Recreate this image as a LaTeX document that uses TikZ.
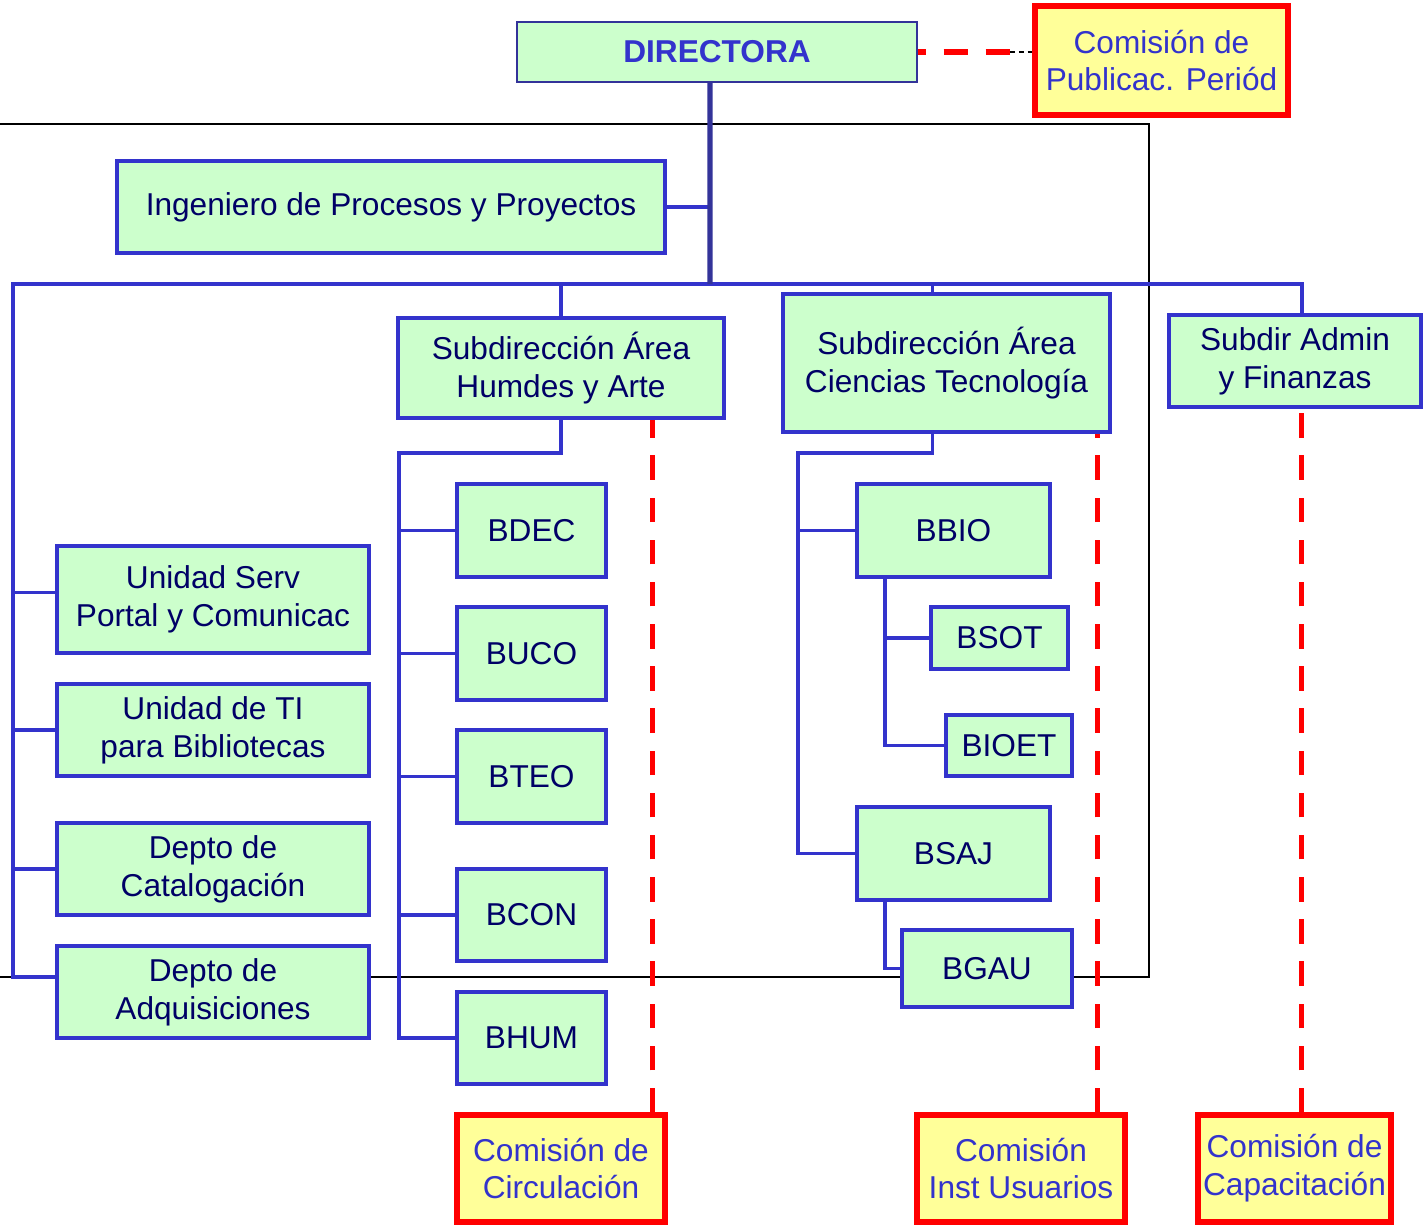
\documentclass[tikz,border=0pt]{standalone}
\usepackage{fontspec}
\setmainfont{Liberation Sans}
\usetikzlibrary{positioning}
\definecolor{lineblue}{HTML}{3333CC}
\definecolor{trunkblue}{HTML}{333399}
\definecolor{boxgreen}{HTML}{CCFFCC}
\definecolor{boxyellow}{HTML}{FFFF99}
\definecolor{navytext}{HTML}{000066}

\tikzset{
  sz/.style 2 args={minimum width=#1*0.02cm, minimum height=#2*0.02cm},
  unit/.style={draw=lineblue, line width=2.2pt, fill=boxgreen, text=navytext,
    align=center, inner sep=0pt, font=\fontsize{18}{21.5}\selectfont},
  comision/.style={draw=red, line width=2.9pt, fill=boxyellow, text=lineblue,
    align=center, inner sep=0pt, font=\fontsize{18}{21.5}\selectfont},
  link/.style={lineblue, line width=1.8pt},
  trunk/.style={trunkblue, line width=3pt},
  staff/.style={red, line width=2.9pt, dash pattern=on 14pt off 10pt},
  frame/.style={black, line width=0.6pt}
}

\begin{document}
\begin{tikzpicture}[x=0.02cm, y=-0.02cm]
\useasboundingbox (0,0) rectangle (1427,1225);
% marco de fondo
\draw [frame] (0,124) -- (1149,124) -- (1149,977) -- (0,977);

% direccion
\node [unit, sz={400}{60}, draw=trunkblue, line width=1.2pt, text=lineblue,
  font=\fontsize{18}{21.5}\selectfont\bfseries] (dir) at (717,52) {DIRECTORA};
\node [comision, sz={253}{109}] (pub) at (1161.5,60.5) {Comisión de\\Publicac. Periód};
\node [unit, sz={548}{92}] (ing) at (391,207) {Ingeniero de Procesos y Proyectos};

% subdirecciones
\node [unit, sz={326}{100}] (hum) at (561,368) {Subdirección Área\\Humdes y Arte};
\node [unit, sz={327}{138}] (cie) at (946.5,363) {Subdirección Área\\Ciencias Tecnología};
\node [unit, sz={252}{92}] (adm) at (1295,361) {Subdir Admin\\y Finanzas};

% unidades y departamentos
\node [unit, sz={312}{107}] (serv) at (213,599.5) {Unidad Serv\\Portal y Comunicac};
\node [unit, sz={312}{92}] (ti) at (213,730) {Unidad de TI\\para Bibliotecas};
\node [unit, sz={312}{92}] (cat) at (213,869) {Depto de\\Catalogación};
\node [unit, sz={312}{92}] (adq) at (213,992) {Depto de\\Adquisiciones};

% bibliotecas humanidades
\node [unit, sz={149}{93}] (bdec) at (531.5,530.5) {BDEC};
\node [unit, sz={149}{93}] (buco) at (531.5,653.5) {BUCO};
\node [unit, sz={149}{93}] (bteo) at (531.5,776.5) {BTEO};
\node [unit, sz={149}{92}] (bcon) at (531.5,915) {BCON};
\node [unit, sz={149}{92}] (bhum) at (531.5,1038) {BHUM};

% bibliotecas ciencias
\node [unit, sz={193}{93}] (bbio) at (953.5,530.5) {BBIO};
\node [unit, sz={137}{62}] (bsot) at (999.5,638) {BSOT};
\node [unit, sz={126}{61}] (bioet) at (1009,745.5) {BIOET};
\node [unit, sz={193}{93}] (bsaj) at (953.5,853.5) {BSAJ};
\node [unit, sz={170}{77}] (bgau) at (987,968.5) {BGAU};

% comisiones
\node [comision, sz={208}{107}] (circ) at (561,1168.5) {Comisión de\\Circulación};
\node [comision, sz={208}{107}] (usu) at (1021,1168.5) {Comisión\\Inst Usuarios};
\node [comision, sz={193}{107}] (cap) at (1294.5,1168.5) {Comisión de\\Capacitación};

% lineas de mando
\coordinate (busL) at (13,284);
\coordinate (busR) at (1302,284);
\coordinate (trunkEnd) at (710,284);
\coordinate (leftEnd) at (13,977);
\coordinate (humL) at (399,453);
\coordinate (cieL) at (798,453);
\draw [link] (ing.east) -- (ing.east -| trunkEnd);
\draw [link] (adm.north -| busR) -- (busR) -- (busL) -- (leftEnd) -- (leftEnd -| adq.west);
\draw [trunk] ([xshift=-4pt]dir.south) -- (trunkEnd);
\draw [link] ([yshift=4pt]serv.west -| busL) -- ([yshift=4pt]serv.west);
\draw [link] (ti.west -| busL) -- (ti.west);
\draw [link] (cat.west -| busL) -- (cat.west);
\draw [link] (hum.north) -- (hum.north |- busL);
\draw [link] ([xshift=-8pt]cie.north) -- ([xshift=-8pt]cie.north |- busL);

\draw [link] (hum.south) |- (humL) |- (bhum.west);
\draw [link] (bdec.west -| humL) -- (bdec.west);
\draw [link] (buco.west -| humL) -- (buco.west);
\draw [link] (bteo.west -| humL) -- (bteo.west);
\draw [link] (bcon.west -| humL) -- (bcon.west);

\draw [link] ([xshift=-8pt]cie.south) |- (cieL) |- (bsaj.west);
\draw [link] (bbio.west -| cieL) -- (bbio.west);
\draw [link] ([xshift=17pt]bbio.south west) |- (bioet.west);
\draw [link] ([xshift=17pt]bbio.south west |- bsot.west) -- (bsot.west);
\draw [link] ([xshift=17pt]bsaj.south west) |- (bgau.west);

% lineas de asesoria
\coordinate (pubMid) at (1010,52);
\draw [staff, dash phase=9.5pt] (dir.east) -- (pubMid);
\draw [black, line width=0.6pt, dash pattern=on 3pt off 2pt] (pubMid) -- (pub.west |- pubMid);
\draw [staff] ([xshift=-8.5pt]circ.north east) -- ([xshift=-8.5pt]circ.north east |- hum.south);
\draw [staff] ([xshift=-17pt]usu.north east) -- ([xshift=-17pt]usu.north east |- cie.south);
\draw [staff] ([xshift=4pt]cap.north) -- ([xshift=4pt]cap.north |- adm.south);
\end{tikzpicture}
\end{document}
